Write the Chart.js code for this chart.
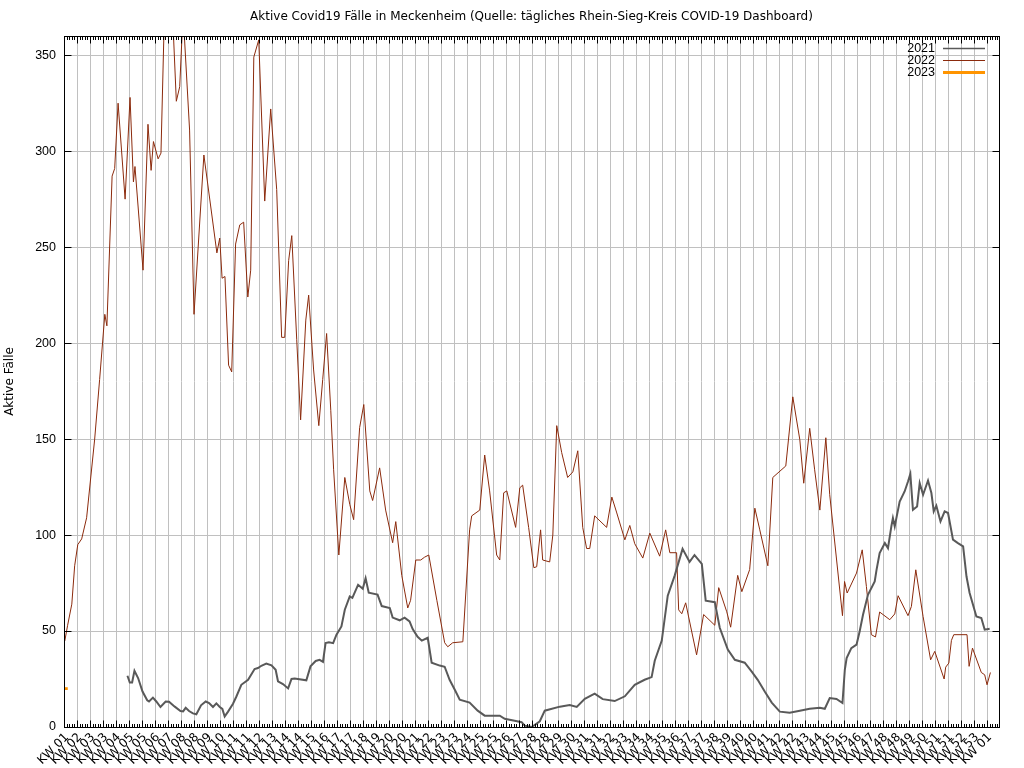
<!DOCTYPE html>
<html lang="de">
<head>
    <meta charset="UTF-8">
    <title>Aktive Covid19 Fälle in Meckenheim</title>
    <script src="https://cdn.jsdelivr.net/npm/chart.js"></script>
    <style>
        html, body { margin: 0; padding: 0; background: #fff; }
        #wrap { width: 1024px; height: 768px; position: relative; }
    </style>
</head>
<body>
    <div id="wrap"><canvas id="chart"></canvas></div>

    <script>
        // x = Tag ab Achsenbeginn, y = aktive Fälle
        const days2021 = [24.4,25.3,26.2,27.1,28.5,30.2,32.0,32.7,34.2,35.5,
            37.1,39.1,40.4,42.6,44.8,45.8,46.8,48.1,49.6,50.9,
            52.7,54.5,55.8,57.3,58.6,59.9,60.9,61.8,63.1,65.0,
            66.3,68.2,70.8,73.3,74.6,75.9,77.8,79.8,81.4,82.3,
            84.2,86.2,87.5,88.7,93.2,94.8,96.8,98.3,99.6,100.6,
            101.9,103.5,104.8,106.7,108.0,109.9,110.9,113.1,114.9,116.0,
            117.2,120.6,122.2,125.3,126.4,129.1,131.0,132.9,134.1,136.0,
            137.6,139.9,141.4,144.5,146.4,148.3,150.3,152.2,156.0,159.1,
            161.8,167.6,169.5,173.3,176.0,177.2,179.9,183.0,184.9,190.7,
            194.5,197.2,200.3,204.1,207.2,211.8,215.7,219.5,223.3,226.0,
            227.2,229.9,232.2,234.9,237.9,240.6,242.5,245.3,246.8,250.3,
            252.2,255.3,258.0,261.8,264.5,266.8,269.5,272.2,275.3,279.1,
            283.0,286.8,290.7,292.6,294.5,297.1,299.4,300.3,301.0,302.8,
            304.8,306.0,307.3,309.2,311.8,312.5,313.7,315.7,316.9,318.2,
            318.8,319.5,321.4,323.3,324.6,325.5,326.5,328.1,329.1,330.4,
            332.3,333.6,334.5,335.5,337.1,338.7,340.0,341.9,343.8,345.8,
            347.1,348.3,350.9,352.8,354.1,356.0];
        const cases2021 = [26.7,23.2,23.2,29.3,25.5,18.5,13.9,13.3,15.3,13.3,
            10.4,13.3,13.2,10.6,8.3,8.1,10,8.3,7.1,6.6,
            11.3,13.3,12.5,10.4,12.3,10.4,9.4,5.5,8,12.1,
            15.9,22,24.6,30.2,30.7,31.9,33,32.1,29.8,23.8,
            22.4,20.1,25,25.2,24.3,31.6,34.4,35,33.9,43.7,
            44.1,43.7,48.1,52.4,61.1,68,67.3,74.1,72,77.5,
            70,69,63,62,57,55.6,57,55,51,47,
            45,46.5,33.5,32,31.4,24.6,19.4,14.2,12.7,8.5,
            5.9,5.9,4.3,3.3,2.5,0.7,0,3,8.5,10.6,
            11.5,10.5,14.7,17.4,14.5,13.5,16,22,24.6,26,
            34.5,45,68.4,79,92.8,86,89.6,85,65.8,65,
            51.7,40.3,35,33.5,28.8,24.6,18.5,12.7,8,7.4,
            8.5,9.5,10,9.5,15.1,14.6,12.5,29.8,35.9,41.1,
            42.9,49.8,58.5,68.9,75.8,81.9,90.6,95.8,93.2,104.5,
            108.9,104.5,117.5,122.7,127.9,131.9,113.2,114.9,127.1,121,
            128.4,121.9,112.3,115.3,107.1,112.3,111.5,97.6,95.8,94.1,
            78.4,69.8,57.6,56.8,50.7,51.2];

        const days2022 = [0.3,1.4,3.0,4.1,5.3,6.8,8.7,11.8,13.7,15.7,
            16.5,18.5,19.5,20.8,23.5,25.4,26.7,27.3,30.4,32.3,
            33.5,34.4,36.2,37.3,39.0,41.0,43.2,44.5,45.8,48.3,
            50.0,53.8,58.8,59.9,60.8,61.9,63.3,64.5,66.0,67.6,
            69.1,70.7,71.8,73.0,74.9,77.2,79.5,81.8,83.7,84.9,
            86.4,87.6,89.5,91.0,93.0,94.1,96.0,98.0,99.5,101.0,
            102.6,103.7,105.7,108.0,109.9,111.4,113.7,115.3,117.6,118.7,
            121.4,123.7,126.4,127.6,129.9,132.2,133.3,135.3,137.2,138.7,
            140.3,143.4,146.4,147.6,149.5,153.4,156.0,156.8,159.9,161.8,
            163.7,166.4,167.6,169.1,170.3,173.7,175.3,176.4,178.7,180.7,
            181.8,183.3,184.1,186.8,188.0,189.5,191.4,193.7,195.7,197.6,
            199.5,201.0,202.2,204.1,208.7,210.7,212.6,215.7,217.6,219.5,
            222.6,225.3,229.1,231.4,233.0,235.6,236.4,237.6,239.1,243.3,
            246.0,250.3,251.8,254.9,256.4,259.1,260.7,263.7,265.7,267.6,
            270.7,272.6,277.6,280.3,283.0,284.5,286.8,288.7,290.7,293.0,
            294.5,299.4,300.2,301.2,304.8,307.0,308.6,310.5,312.1,313.7,
            317.6,319.5,320.8,324.6,325.9,327.6,330.4,333.3,334.9,338.5,
            339.1,340.3,341.3,342.2,347.3,348.1,349.4,352.8,354.1,355.0,
            356.3];
        const cases2022 = [44.8,53,64,84,95,98,109,150,181,215,
            209,287,291,325,275,328,284,292,238,314,
            290,305,296,299,393,395,326,333.6,372,311,
            215,298,247,254.7,233.8,234.7,188.5,185,251.6,261.6,
            263,224,238,349,358,274,322,280,203,203,
            243,256,202,160,212,225,186,157,181,205,
            165,134,89.6,130,116,108,156,168,123,118,
            135,113,96,107,79,62,66,87,87,88.5,
            89.6,66,43.9,41.8,43.9,44.4,102.7,110,113,141.7,
            123,89.6,87,122,123,104,124.6,126,104,83,
            83.5,102.7,87,86,100,157,143,130,132.9,143.9,
            104,93,93,110,104,119.8,111.5,97.5,105,95.5,
            88,101,89,102.7,90.8,90.8,61,59,64.7,37.6,
            58.6,53,72.6,60,52,79,70.5,82,114,102.7,
            84,130,136,172,149.6,127,155.6,134,113,150.7,
            121,58,75.8,69.8,80.2,92.3,73.2,48.1,46.9,59.9,
            55.9,58.9,68.4,58,62.8,81.9,57.6,35,39.4,25,
            31.2,33.3,45.1,48.1,48.1,31.6,41.1,28.4,27.2,22,
            28.4];

        const days2023 = [0.9];
        const cases2023 = [20];

        // Beschriftung der Hauptmarken (alle 5 Tage)
        const weekLabels = ['01','02','03','03','04','05','05','06','07','08',
            '08','09','10','11','11','12','13','14','14','15',
            '16','17','17','18','19','20','20','21','22','23',
            '23','24','25','25','26','27','28','28','29','30',
            '31','31','32','33','34','34','35','36','37','37',
            '38','39','40','40','41','42','42','43','44','45',
            '45','46','47','48','48','49','50','51','51','52',
            '53','01'].map(w => 'KW ' + w);

        const yTicks = [0, 50, 100, 150, 200, 250, 300, 350];

        const FONT = "'Liberation Sans', Arial, sans-serif";
        const WIDE = "'DejaVu Sans', sans-serif";

        function toPoints(xs, ys) {
            return xs.map((x, i) => ({ x: x, y: ys[i] }));
        }

        // gnuplot-artiger Rahmen, Ticks, Beschriftungen und Legende
        const gnuplotLook = {
            id: 'gnuplotLook',
            afterDraw(chart) {
                const ctx = chart.ctx;
                const a = chart.chartArea;
                const xs = chart.scales.x;
                const ys = chart.scales.y;
                const L = Math.round(a.left) + 0.5, R = Math.round(a.right) + 0.5;
                const T = Math.round(a.top) + 0.5, B = Math.round(a.bottom) + 0.5;

                ctx.save();
                ctx.strokeStyle = '#000';
                ctx.lineWidth = 1;

                // kleine Ticks (täglich) und große Ticks (alle 5 Tage)
                ctx.beginPath();
                for (let d = 0; d <= xs.max; d++) {
                    const px = Math.round(xs.getPixelForValue(d)) + 0.5;
                    const len = d % 5 === 0 ? 7 : 3.5;
                    ctx.moveTo(px, B); ctx.lineTo(px, B - len);
                    ctx.moveTo(px, T); ctx.lineTo(px, T + len);
                }
                yTicks.forEach(v => {
                    const py = Math.round(ys.getPixelForValue(v)) + 0.5;
                    ctx.moveTo(L, py); ctx.lineTo(L + 7, py);
                    ctx.moveTo(R, py); ctx.lineTo(R - 7, py);
                });
                ctx.stroke();

                // Rahmen
                ctx.strokeRect(L, T, R - L, B - T);

                // x-Beschriftung, 45° gedreht
                ctx.fillStyle = '#000';
                ctx.font = '12px ' + WIDE;
                ctx.textAlign = 'right';
                ctx.textBaseline = 'middle';
                xs.ticks.forEach(t => {
                    const px = xs.getPixelForValue(t.value);
                    const label = weekLabels[Math.round(t.value / 5)];
                    if (!label) return;
                    ctx.save();
                    ctx.translate(px + 3, B + 8);
                    ctx.rotate(-Math.PI / 4);
                    ctx.fillText(label, 0, 0);
                    ctx.restore();
                });

                // Titel
                ctx.textAlign = 'center';
                ctx.fillText('Aktive Covid19 Fälle in Meckenheim (Quelle: tägliches Rhein-Sieg-Kreis COVID-19 Dashboard)',
                    (a.left + a.right) / 2, 17);

                // y-Achsentitel
                ctx.save();
                ctx.translate(10, (a.top + a.bottom) / 2);
                ctx.rotate(-Math.PI / 2);
                ctx.fillText('Aktive Fälle', 0, 0);
                ctx.restore();

                // Legende oben rechts
                ctx.font = '12.5px ' + FONT;
                chart.data.datasets.forEach((ds, i) => {
                    const y = 48.5 + i * 12;
                    ctx.textAlign = 'right';
                    ctx.fillStyle = '#000';
                    ctx.fillText(ds.label, 935, y);
                    ctx.beginPath();
                    ctx.strokeStyle = ds.legendColor;
                    ctx.lineWidth = ds.legendWidth;
                    ctx.moveTo(943, y); ctx.lineTo(985, y);
                    ctx.stroke();
                });
                ctx.restore();
            }
        };

        new Chart(document.getElementById('chart'), {
            type: 'line',
            data: {
                datasets: [
                    {
                        label: '2021',
                        data: toPoints(days2021, cases2021),
                        borderColor: '#595959',
                        borderWidth: 2,
                        legendColor: '#595959',
                        legendWidth: 1.5,
                        pointRadius: 0,
                        tension: 0
                    },
                    {
                        label: '2022',
                        data: toPoints(days2022, cases2022),
                        borderColor: '#8b2a0c',
                        borderWidth: 1,
                        legendColor: '#8b2a0c',
                        legendWidth: 1,
                        pointRadius: 0,
                        tension: 0
                    },
                    {
                        label: '2023',
                        data: toPoints(days2023, cases2023),
                        borderColor: '#ff9400',
                        backgroundColor: '#ff9400',
                        legendColor: '#ff9400',
                        legendWidth: 3,
                        showLine: false,
                        pointStyle: 'rect',
                        pointRadius: 2,
                        pointBorderWidth: 0
                    }
                ]
            },
            options: {
                responsive: true,
                maintainAspectRatio: false,
                animation: false,
                devicePixelRatio: 1,
                layout: { padding: { top: 36, right: 25, left: 0, bottom: 0 } },
                plugins: {
                    legend: { display: false },
                    title: { display: false },
                    tooltip: { enabled: false }
                },
                scales: {
                    x: {
                        type: 'linear',
                        min: 0,
                        max: 359.6,
                        border: { display: false },
                        grid: { color: '#c0c0c0', drawTicks: false },
                        ticks: { stepSize: 5, includeBounds: false, display: false, autoSkip: false },
                        afterFit(scale) { scale.height = 41; }
                    },
                    y: {
                        min: 0,
                        max: 360,
                        border: { display: false },
                        grid: { color: '#c0c0c0', drawTicks: false },
                        ticks: {
                            stepSize: 50,
                            includeBounds: false,
                            padding: 8,
                            color: '#000',
                            font: { family: FONT, size: 12.5 }
                        },
                        afterFit(scale) { scale.width = 64; }
                    }
                }
            },
            plugins: [gnuplotLook]
        });
    </script>
</body>
</html>
